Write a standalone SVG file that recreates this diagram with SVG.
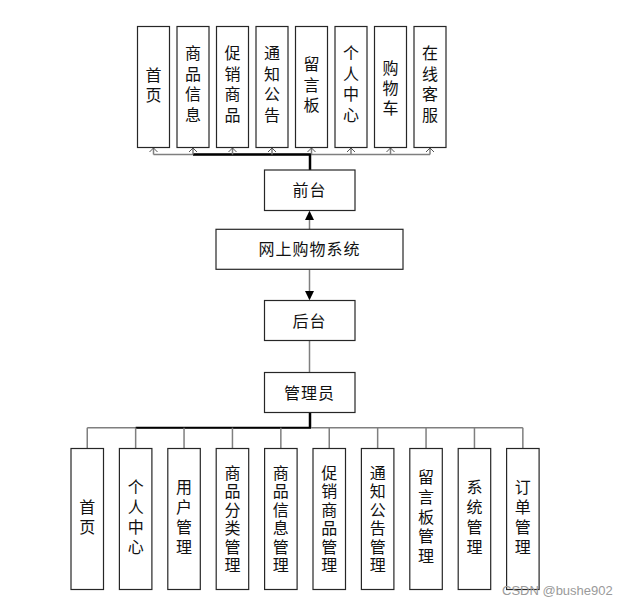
<svg xmlns="http://www.w3.org/2000/svg" width="631" height="604" viewBox="0 0 631 604">
<style>
.box{fill:#ffffff;stroke:#262626;stroke-width:1.2}
.t{font-family:"Noto Sans CJK SC","Noto Sans CJK JP",sans-serif;font-size:16px;fill:#111;text-anchor:middle}
.v{font-family:"Noto Sans CJK SC","Noto Sans CJK JP",sans-serif;font-size:16px;fill:#111;text-anchor:middle;writing-mode:vertical-rl}
.s45{letter-spacing:4.5px}
.s4{letter-spacing:4px}
.s375{letter-spacing:3.75px}
.s25{letter-spacing:2.5px}
.g{fill:none;stroke:#7f7f7f;stroke-width:1.5}
.k{fill:none;stroke:#000;stroke-width:2.5}
.ah{fill:none;stroke:#555;stroke-width:1}
.wm{font-family:"Liberation Sans",Arial,sans-serif;font-size:13px;fill:#9a9a9a}
</style>
<rect width="631" height="604" fill="#ffffff"/>

<g id="connectors">
  <line class="g" x1="153.5" y1="154.5" x2="430" y2="154.5"/>
  <line class="k" x1="193" y1="154.5" x2="311" y2="154.5"/>
  <line class="g" x1="153.5" y1="148" x2="153.5" y2="154.5"/>
  <line class="g" x1="193" y1="148" x2="193" y2="154.5"/>
  <line class="g" x1="232.5" y1="148" x2="232.5" y2="154.5"/>
  <line class="g" x1="272" y1="148" x2="272" y2="154.5"/>
  <line class="g" x1="311.5" y1="148" x2="311.5" y2="154.5"/>
  <line class="g" x1="351" y1="148" x2="351" y2="154.5"/>
  <line class="g" x1="390.5" y1="148" x2="390.5" y2="154.5"/>
  <line class="g" x1="430" y1="148" x2="430" y2="154.5"/>
  <path class="ah" d="M149.5,152 L153.5,148 L157.5,152 M189,152 L193,148 L197,152 M228.5,152 L232.5,148 L236.5,152 M268,152 L272,148 L276,152 M307.5,152 L311.5,148 L315.5,152 M347,152 L351,148 L355,152 M386.5,152 L390.5,148 L394.5,152 M426,152 L430,148 L434,152"/>
  <line class="k" x1="310" y1="154.5" x2="310" y2="170"/>
  <line class="g" x1="309.5" y1="229" x2="309.5" y2="219"/>
  <polygon points="309.5,210.8 305,220 314,220" fill="#000"/>
  <line class="g" x1="309.5" y1="269.5" x2="309.5" y2="291"/>
  <polygon points="309.5,300.3 305,291 314,291" fill="#000"/>
  <line class="g" x1="309.5" y1="340.5" x2="309.5" y2="372.5"/>
  <line class="k" x1="310" y1="412.5" x2="310" y2="427.7"/>
  <line class="g" x1="87.25" y1="427.7" x2="522.85" y2="427.7"/>
  <line class="k" x1="135.65" y1="427.7" x2="311" y2="427.7" style="stroke-width:2"/>
  <line class="g" x1="87.25" y1="427.7" x2="87.25" y2="448.5"/>
  <line class="g" x1="135.65" y1="427.7" x2="135.65" y2="448.5"/>
  <line class="g" x1="184.05" y1="427.7" x2="184.05" y2="448.5"/>
  <line class="g" x1="232.45" y1="427.7" x2="232.45" y2="448.5"/>
  <line class="g" x1="280.85" y1="427.7" x2="280.85" y2="448.5"/>
  <line class="g" x1="329.25" y1="427.7" x2="329.25" y2="448.5"/>
  <line class="g" x1="377.65" y1="427.7" x2="377.65" y2="448.5"/>
  <line class="g" x1="426.05" y1="427.7" x2="426.05" y2="448.5"/>
  <line class="g" x1="474.45" y1="427.7" x2="474.45" y2="448.5"/>
  <line class="g" x1="522.85" y1="427.7" x2="522.85" y2="448.5"/>
</g>

<g id="f-shouye">
  <rect class="box" x="137.5" y="26.5" width="32" height="121"/>
  <text class="v s45" x="153.5" y="87.25">首页</text>
</g>
<g id="f-spxx">
  <rect class="box" x="177" y="26.5" width="32" height="121"/>
  <text class="v s45" x="193" y="86.25">商品信息</text>
</g>
<g id="f-cxsp">
  <rect class="box" x="216.5" y="26.5" width="32" height="121"/>
  <text class="v s45" x="232.5" y="86.25">促销商品</text>
</g>
<g id="f-tzgg">
  <rect class="box" x="256" y="26.5" width="32" height="121"/>
  <text class="v s45" x="272" y="86.25">通知公告</text>
</g>
<g id="f-lyb">
  <rect class="box" x="295.5" y="26.5" width="32" height="121"/>
  <text class="v s45" x="311.5" y="86.75">留言板</text>
</g>
<g id="f-grzx">
  <rect class="box" x="335" y="26.5" width="32" height="121"/>
  <text class="v s45" x="351" y="86.25">个人中心</text>
</g>
<g id="f-gwc">
  <rect class="box" x="374.5" y="26.5" width="32" height="121"/>
  <text class="v s4" x="390.5" y="90">购物车</text>
</g>
<g id="f-zxkf">
  <rect class="box" x="414" y="26.5" width="32" height="121"/>
  <text class="v s45" x="430" y="86.25">在线客服</text>
</g>

<g id="qiantai">
  <rect class="box" x="264.5" y="170" width="90.5" height="40.5"/>
  <text class="t" x="309.5" y="196" letter-spacing="1">前台</text>
</g>
<g id="system">
  <rect class="box" x="216" y="229.3" width="187" height="40"/>
  <text class="t" x="309.5" y="255" letter-spacing="1">网上购物系统</text>
</g>
<g id="houtai">
  <rect class="box" x="264.5" y="300.5" width="90.5" height="40"/>
  <text class="t" x="309.5" y="326.5" letter-spacing="1">后台</text>
</g>
<g id="admin">
  <rect class="box" x="264.5" y="372.5" width="90.5" height="40"/>
  <text class="t" x="309.5" y="398.5" letter-spacing="1">管理员</text>
</g>

<g id="b-shouye">
  <rect class="box" x="71" y="448.5" width="32.5" height="141"/>
  <text class="v s4" x="87.25" y="519">首页</text>
</g>
<g id="b-grzx">
  <rect class="box" x="119.4" y="448.5" width="32.5" height="141"/>
  <text class="v s4" x="135.65" y="519">个人中心</text>
</g>
<g id="b-yhgl">
  <rect class="box" x="167.8" y="448.5" width="32.5" height="141"/>
  <text class="v s4" x="184.05" y="519">用户管理</text>
</g>
<g id="b-spfl">
  <rect class="box" x="216.2" y="448.5" width="32.5" height="141"/>
  <text class="v s25" x="232.45" y="520.25">商品分类管理</text>
</g>
<g id="b-spxx">
  <rect class="box" x="264.6" y="448.5" width="32.5" height="141"/>
  <text class="v s25" x="280.85" y="520.25">商品信息管理</text>
</g>
<g id="b-cxsp">
  <rect class="box" x="313" y="448.5" width="32.5" height="141"/>
  <text class="v s25" x="329.25" y="520.25">促销商品管理</text>
</g>
<g id="b-tzgg">
  <rect class="box" x="361.4" y="448.5" width="32.5" height="141"/>
  <text class="v s25" x="377.65" y="520.25">通知公告管理</text>
</g>
<g id="b-lyb">
  <rect class="box" x="409.8" y="448.5" width="32.5" height="141"/>
  <text class="v s375" x="426.05" y="518.4">留言板管理</text>
</g>
<g id="b-xtgl">
  <rect class="box" x="458.2" y="448.5" width="32.5" height="141"/>
  <text class="v s4" x="474.45" y="519">系统管理</text>
</g>
<g id="b-ddgl">
  <rect class="box" x="506.6" y="448.5" width="32.5" height="141"/>
  <text class="v s4" x="522.85" y="519">订单管理</text>
</g>

<text class="wm" x="502" y="595">CSDN @bushe902</text>
</svg>
